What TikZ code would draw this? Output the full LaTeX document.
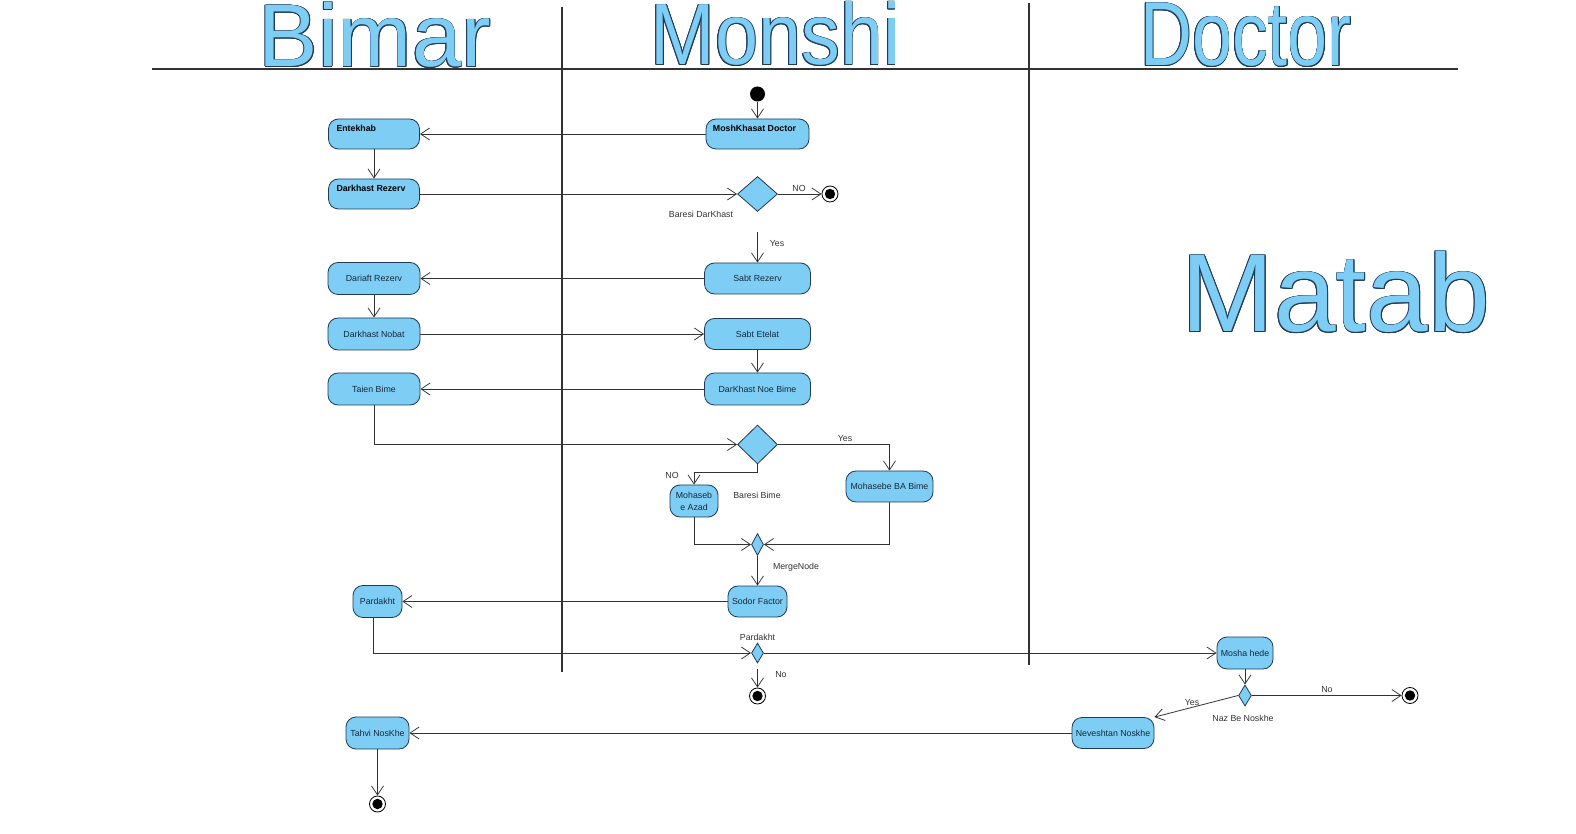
\documentclass[tikz,border=0pt]{standalone}
\usepackage{fontspec}
\setmainfont{Liberation Sans}
\newfontfamily\lanefont{Liberation Sans}
\newfontfamily\monshifont[FakeStretch=0.89]{Liberation Sans}
\newfontfamily\doctorfont[FakeStretch=0.79]{Liberation Sans}
\usepackage{tikz}
\usetikzlibrary{calc,positioning}
\usetikzlibrary{shapes.geometric,arrows.meta}
\usepackage{xcolor}
\definecolor{actfill}{HTML}{7DCDF4}
\definecolor{actedge}{HTML}{1F3B57}
\definecolor{wire}{HTML}{333333}

\begin{document}
\begin{tikzpicture}[x=0.5pt, y=-0.5pt,
  act/.style = {draw=actedge, fill=actfill, rounded corners=5pt, inner sep=0pt, align=center, text=actedge!70!black, font=\fontsize{4.4}{6}\selectfont},
  boldtext/.style = {inner sep=0pt, text=black, font=\bfseries\fontsize{4.4}{6}\selectfont},
  dec/.style = {diamond, draw=actedge, fill=actfill, inner sep=0pt},
  initnode/.style = {circle, fill=black, minimum size=7.5pt, inner sep=0pt},
  finalnode/.style = {circle, draw=black, fill=white, minimum size=8pt, inner sep=0pt, path picture={\fill[black] (path picture bounding box.center) circle (2.6pt);}},
  edgeline/.style = {draw=wire, -{Straight Barb[length=4.5pt,width=6pt]}},
  note/.style = {inner sep=0pt, text=wire, font=\fontsize{4.4}{6}\selectfont},
  lanetitle/.style = {anchor=base, inner sep=0pt, text height=0.7em, text depth=0pt}]
	\useasboundingbox[fill=white] (0,0) rectangle (1576,834);
	% swimlanes
	\draw[wire, line width=0.6pt] (152,69) -- (1458,69);
	\draw[wire, line width=0.6pt] (562,7) -- (562,672);
	\draw[wire, line width=0.6pt] (1029,3) -- (1029,665);
	\foreach \word/\px/\py/\sz/\fnt in {Bimar/375/67/44.5/\lanefont, Monshi/775.5/65/43.5/\monshifont, Doctor/1246/66/45.5/\doctorfont, Matab/1336/332/55.5/\lanefont}{
		\foreach \a in {0,30,...,330}
			\node[lanetitle, text=actedge, font=\fnt\fontsize{\sz}{\sz}\selectfont, shift={(\a:0.45pt)}] (\word-\a) at (\px,\py) {\word};
		\node[lanetitle, text=actfill, font=\fnt\fontsize{\sz}{\sz}\selectfont] (\word) at (\px,\py) {\word};
	}
	% Bimar
	\node[act, minimum width=45.5pt, minimum height=15pt] (ent) at (374,134) {};
	\node[act, minimum width=45.5pt, minimum height=15pt] (drez) at (374,194) {};
	\node[act, minimum width=46pt, minimum height=16pt] (dariaft) at (374,278.5) {Dariaft Rezerv};
	\node[act, minimum width=46pt, minimum height=16pt] (nobat) at (374,334) {Darkhast Nobat};
	\node[act, minimum width=46pt, minimum height=16pt] (taien) at (374,389) {Taien Bime};
	\node[act, minimum width=24.5pt, minimum height=16pt] (pardakht) at (377.5,601.5) {Pardakht};
	\node[act, minimum width=31.5pt, minimum height=16pt] (tahvil) at (377.5,733) {Tahvi NosKhe};
	\node[finalnode] (f4) at (377.5,804) {};
	\node[boldtext, anchor=base west] (ent-t) at ($(ent.north west)+(8,13)$) {Entekhab};
	\node[boldtext, anchor=base west] (drez-t) at ($(drez.north west)+(8,13)$) {Darkhast Rezerv};
	% Monshi
	\node[initnode] (init) at (757.5,94) {};
	\node[act, minimum width=51.5pt, minimum height=15pt] (mosh) at (757.5,134) {};
	\node[boldtext, anchor=base] (mosh-t) at ($(mosh.north)+(-3,13)$) {MoshKhasat Doctor};
	\node[dec, minimum width=20pt, minimum height=17.5pt] (d1) at (757.5,194) {};
	\node[finalnode] (f1) at (830,194) {};
	\node[act, minimum width=53pt, minimum height=15.5pt] (sabtrez) at (757.5,278.5) {Sabt Rezerv};
	\node[act, minimum width=53pt, minimum height=15.5pt] (etelat) at (757.5,334) {Sabt Etelat};
	\node[act, minimum width=53pt, minimum height=16pt] (noebime) at (757.5,389) {DarKhast Noe Bime};
	\node[dec, minimum width=20pt, minimum height=19.5pt] (d2) at (757.5,444.5) {};
	\node[act, minimum width=24pt, minimum height=16pt] (azad) at (694,501) {Mohaseb\\e Azad};
	\node[act, minimum width=43.5pt, minimum height=15.5pt] (babime) at (889.5,486.5) {Mohasebe BA Bime};
	\node[dec, minimum width=6pt, minimum height=11pt] (merge) at (757.5,544.5) {};
	\node[act, minimum width=29.5pt, minimum height=15.5pt] (sodor) at (757.5,601.5) {Sodor Factor};
	\node[dec, minimum width=6pt, minimum height=10pt] (d3) at (757.5,653) {};
	\node[finalnode] (f2) at (757.5,696) {};
	% Doctor
	\node[act, minimum width=28pt, minimum height=16pt] (moshahede) at (1245,653) {Mosha hede};
	\node[dec, minimum width=6.5pt, minimum height=10.5pt] (d4) at (1245,695.5) {};
	\node[finalnode] (f3) at (1410,695.5) {};
	\node[act, minimum width=41pt, minimum height=15.5pt] (neveshtan) at (1113,733) {Neveshtan Noskhe};
	% labels
	\node[note] (l-baresi) at (701,214) {Baresi DarKhast};
	\node[note] (l-no1) at (799,188) {NO};
	\node[note] (l-yes1) at (777,244) {Yes};
	\node[note] (l-yes2) at (845,439) {Yes};
	\node[note] (l-no2) at (672,475) {NO};
	\node[note] (l-bime) at (757,495) {Baresi Bime};
	\node[note] (l-merge) at (796,567) {MergeNode};
	\node[note] (l-pard) at (757.5,637) {Pardakht};
	\node[note] (l-no3) at (781,675) {No};
	\node[note] (l-no4) at (1327,690) {No};
	\node[note] (l-yes3) at (1192,703) {Yes};
	\node[note] (l-naz) at (1243,718) {Naz Be Noskhe};
	% flows
	\draw[edgeline] (init) -- (mosh);
	\draw[edgeline] (mosh) -- (ent);
	\draw[edgeline] (ent) -- (drez);
	\draw[edgeline] (drez) -- (d1);
	\draw[edgeline] (d1) -- (f1);
	\draw[edgeline, shorten <=10pt] (d1) -- (sabtrez);
	\draw[edgeline] (sabtrez) -- (dariaft);
	\draw[edgeline] (dariaft) -- (nobat);
	\draw[edgeline] (nobat) -- (etelat);
	\draw[edgeline] (etelat) -- (noebime);
	\draw[edgeline] (noebime) -- (taien);
	\draw[edgeline] (taien.south) |- (d2.west);
	\draw[edgeline] (d2.east) -| (babime.north);
	\draw[edgeline] (d2.south) -- ++(0,8) -| (azad.north);
	\draw[edgeline] (azad.south) |- (merge.west);
	\draw[edgeline] (babime.south) |- (merge.east);
	\draw[edgeline] (merge) -- (sodor);
	\draw[edgeline] (sodor) -- (pardakht);
	\draw[edgeline] ($(pardakht.south)+(-4,0)$) |- (d3.west);
	\draw[edgeline] (d3.east) -- (moshahede.west);
	\draw[edgeline, shorten <=3pt] (d3) -- (f2);
	\draw[edgeline] (moshahede) -- (d4);
	\draw[edgeline] (d4) -- (f3);
	\draw[edgeline] (d4.west) -- (neveshtan.north east);
	\draw[edgeline] (neveshtan) -- (tahvil);
	\draw[edgeline] (tahvil) -- (f4);
\end{tikzpicture}
\end{document}
